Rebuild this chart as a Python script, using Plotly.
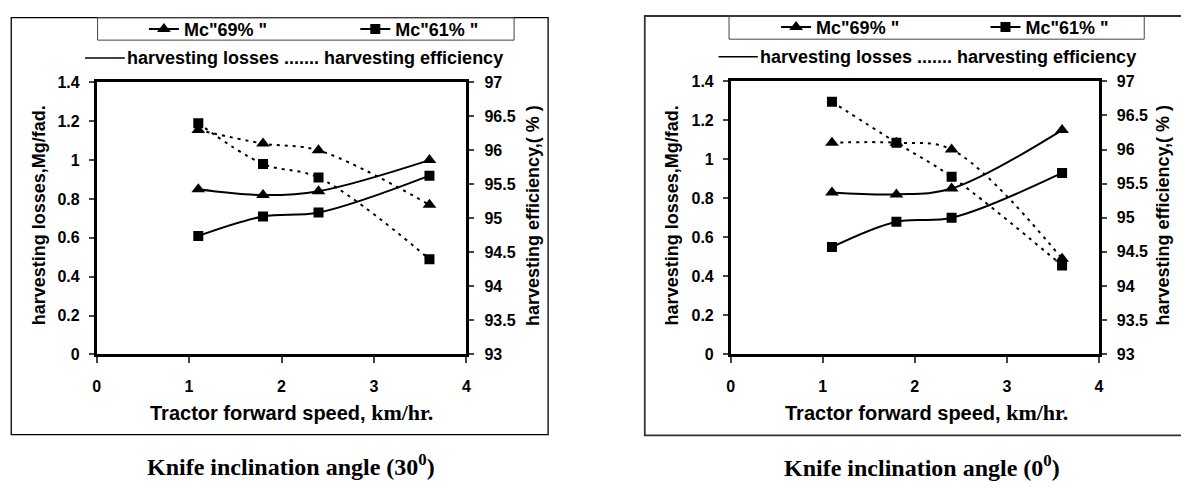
import plotly.graph_objects as go

# ---------------- data ----------------
speed = [1.1, 1.8, 2.4, 3.6]

# Knife inclination angle 30 deg
loss69_30 = [0.85, 0.82, 0.84, 1.00]
loss61_30 = [0.61, 0.71, 0.73, 0.92]
eff69_30 = [96.3, 96.1, 96.0, 95.2]
eff61_30 = [96.4, 95.8, 95.6, 94.4]

# Knife inclination angle 0 deg
loss69_0 = [0.83, 0.82, 0.85, 1.15]
loss61_0 = [0.55, 0.68, 0.70, 0.93]
eff69_0 = [96.1, 96.1, 96.0, 94.4]
eff61_0 = [96.7, 96.1, 95.6, 94.3]

x_ticks = [0, 1, 2, 3, 4]
x_labels = ["0", "1", "2", "3", "4"]
loss_ticks = [0, 0.2, 0.4, 0.6, 0.8, 1.0, 1.2, 1.4]
loss_labels = ["0", "0.2", "0.4", "0.6", "0.8", "1", "1.2", "1.4"]
eff_ticks = [93, 93.5, 94, 94.5, 95, 95.5, 96, 96.5, 97]
eff_labels = ["93", "93.5", "94", "94.5", "95", "95.5", "96", "96.5", "97"]

series_names = ['Mc"69% "', 'Mc"61% "']
panel_titles = ["Knife inclination angle (30<sup>0</sup>)", "Knife inclination angle (0<sup>0</sup>)"]
x_title = ('Tractor forward speed, '
           '<span style="font-family:Liberation Serif, Times New Roman;font-size:22px">km/hr.</span>')
y_title = "harvesting losses,Mg/fad."
y2_title = "harvesting efficiency,( % )"
key_text = "harvesting losses ....... harvesting efficiency"

# ---------------- helpers (layout only) ----------------
W, H = 1181, 488
def px(x):
    return x / W
def py(y):
    return 1 - y / H

SANS = "Liberation Sans, Arial"
SERIF = "Liberation Serif, Times New Roman"

def bold(labels):
    return ["<b>%s</b>" % t for t in labels]

fig = go.Figure()

panels = [
    dict(loss=(loss69_30, loss61_30), eff=(eff69_30, eff61_30), xa="x", ya="y", ya2="y2",
         legends=("legend", "legend2")),
    dict(loss=(loss69_0, loss61_0), eff=(eff69_0, eff61_0), xa="x2", ya="y3", ya2="y4",
         legends=("legend3", "legend4")),
]
symbols = ["triangle-up", "square"]
msizes = [12, 10]

for p in panels:
    for i in range(2):
        fig.add_trace(go.Scatter(
            x=speed, y=p["loss"][i], xaxis=p["xa"], yaxis=p["ya"],
            mode="lines+markers", name=series_names[i], legend=p["legends"][i],
            line=dict(color="black", width=2, shape="spline", smoothing=1),
            marker=dict(symbol=symbols[i], size=msizes[i], color="black"),
            showlegend=True,
        ))
    for i in range(2):
        fig.add_trace(go.Scatter(
            x=speed, y=p["eff"][i], xaxis=p["xa"], yaxis=p["ya2"],
            mode="lines+markers", name=series_names[i] + " eff",
            line=dict(color="black", width=2, shape="spline", smoothing=1, dash="3px,5px"),
            marker=dict(symbol=symbols[i], size=msizes[i], color="black"),
            showlegend=False,
        ))

tickfont = dict(family=SANS, size=16, color="black")
common_x = dict(range=[0, 4], tickvals=x_ticks, ticktext=bold(x_labels), ticks="outside",
                ticklen=6, tickwidth=2,
                showline=True, linewidth=2.5, linecolor="black", mirror=True,
                showgrid=False, zeroline=False, tickfont=tickfont, ticklabelstandoff=10,
                fixedrange=True)
common_y = dict(range=[0, 1.4], tickvals=loss_ticks, ticktext=bold(loss_labels), ticks="outside",
                ticklen=5, tickwidth=2, showline=True, linewidth=2.5, linecolor="black",
                showgrid=False, zeroline=False, tickfont=tickfont, ticklabelstandoff=6)
common_y2 = dict(range=[93, 97], tickvals=eff_ticks, ticktext=bold(eff_labels), ticks="outside",
                 ticklen=5, tickwidth=2, showline=True, linewidth=2.5, linecolor="black",
                 showgrid=False, zeroline=False, tickfont=tickfont, ticklabelstandoff=7,
                 side="right")

dom_l = [px(93.3), px(466)]
dom_r = [px(732.3), px(1103.3)]
ydom_l = [py(359), py(77)]
ydom_r = [py(358.7), py(76)]

legend_common = dict(orientation="h", bgcolor="rgba(0,0,0,0)", borderwidth=0,
                     font=dict(family=SANS, size=18, color="black", weight="bold"),
                     xanchor="left", yanchor="middle",
                     itemclick=False, itemdoubleclick=False)

fig.update_layout(
    width=W, height=H,
    margin=dict(l=0, r=0, t=0, b=0),
    paper_bgcolor="white", plot_bgcolor="white",
    font=dict(family=SANS, size=16, color="black"),
    xaxis=dict(domain=dom_l, anchor="y", **common_x),
    yaxis=dict(domain=ydom_l, anchor="x", **common_y),
    yaxis2=dict(domain=ydom_l, anchor="x", overlaying="y", **common_y2),
    xaxis2=dict(domain=dom_r, anchor="y3", **common_x),
    yaxis3=dict(domain=ydom_r, anchor="x2", **common_y),
    yaxis4=dict(domain=ydom_r, anchor="x2", overlaying="y3", **common_y2),
    legend=dict(x=px(141), y=py(22), **legend_common),
    legend2=dict(x=px(354), y=py(22), **legend_common),
    legend3=dict(x=px(778), y=py(20), **legend_common),
    legend4=dict(x=px(989), y=py(20), **legend_common),
    showlegend=True,
)

shapes = []
# outer frames
shapes.append(dict(type="rect", xref="paper", yref="paper", x0=px(7.3), x1=px(548.3),
                   y0=py(442), y1=py(10), line=dict(color="black", width=1.3)))
shapes.append(dict(type="rect", xref="paper", yref="paper", x0=px(645.7), x1=px(1195),
                   y0=py(442.7), y1=py(8.3), line=dict(color="#333333", width=1.8)))
# legend boxes
shapes.append(dict(type="rect", xref="paper", yref="paper", x0=px(94.3), x1=px(514),
                   y0=py(33.3), y1=py(10), line=dict(color="#444444", width=1)))
shapes.append(dict(type="rect", xref="paper", yref="paper", x0=px(730.6), x1=px(1149),
                   y0=py(32.3), y1=py(8.3), line=dict(color="#444444", width=1)))
# solid key line for second legend row
shapes.append(dict(type="line", xref="paper", yref="paper", x0=px(81.7), x1=px(121.7),
                   y0=py(51.7), y1=py(51.7), line=dict(color="black", width=1.5)))
shapes.append(dict(type="line", xref="paper", yref="paper", x0=px(720), x1=px(759.6),
                   y0=py(50.5), y1=py(50.5), line=dict(color="black", width=1.5)))
fig.update_layout(shapes=shapes)

ann_font = dict(family=SANS, size=18, color="black", weight="bold")
xt_font = dict(family=SANS, size=20, color="black", weight="bold")
tt_font = dict(family=SERIF, size=24, color="black", weight="bold")
annotations = [
    dict(text=key_text, x=px(121.5), y=py(51.7), xanchor="left", yanchor="middle", font=ann_font),
    dict(text=key_text, x=px(759.5), y=py(50.5), xanchor="left", yanchor="middle", font=ann_font),
    dict(text=y_title, x=px(35), y=py(215), textangle=-90, xanchor="center", yanchor="middle", font=ann_font),
    dict(text=y2_title, x=px(532.6), y=py(215), textangle=-90, xanchor="center", yanchor="middle", font=ann_font),
    dict(text=y_title, x=px(673), y=py(215), textangle=-90, xanchor="center", yanchor="middle", font=ann_font),
    dict(text=y2_title, x=px(1167), y=py(215), textangle=-90, xanchor="center", yanchor="middle", font=ann_font),
    dict(text=x_title, x=px(290), y=py(419), xanchor="center", yanchor="middle", font=xt_font),
    dict(text=x_title, x=px(930), y=py(419), xanchor="center", yanchor="middle", font=xt_font),
    dict(text=panel_titles[0], x=px(289), y=py(473), xanchor="center", yanchor="middle", font=tt_font),
    dict(text=panel_titles[1], x=px(925), y=py(475), xanchor="center", yanchor="middle", font=tt_font),
]
for a in annotations:
    a.update(xref="paper", yref="paper", showarrow=False)
fig.update_layout(annotations=annotations)

fig.write_html("out.html", config={"displayModeBar": False})
